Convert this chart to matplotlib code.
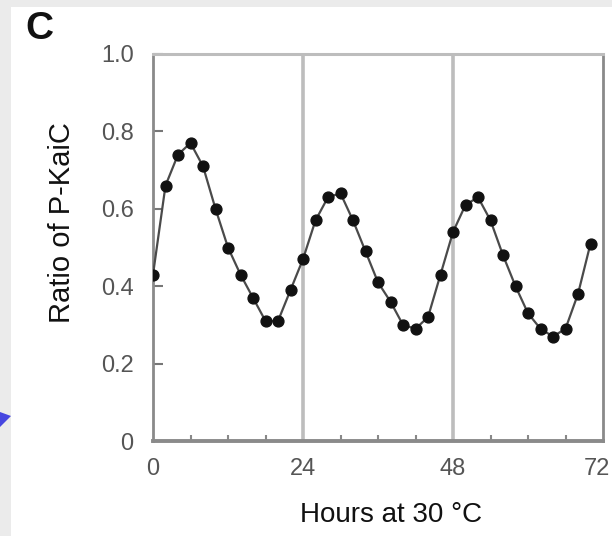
import matplotlib
matplotlib.use("Agg")
import matplotlib.pyplot as plt
import matplotlib.transforms as mtransforms
from matplotlib.patches import Rectangle, Polygon

# ---- data ----
hours = [0, 2, 4, 6, 8, 10, 12, 14, 16, 18, 20, 22, 24, 26, 28, 30, 32, 34,
         36, 38, 40, 42, 44, 46, 48, 50, 52, 54, 56, 58, 60, 62, 64, 66, 68, 70]
ratio = [0.43, 0.66, 0.74, 0.77, 0.71, 0.60, 0.50, 0.43, 0.37, 0.31, 0.31, 0.39,
         0.47, 0.57, 0.63, 0.64, 0.57, 0.49, 0.41, 0.36, 0.30, 0.29, 0.32, 0.43,
         0.54, 0.61, 0.63, 0.57, 0.48, 0.40, 0.33, 0.29, 0.27, 0.29, 0.38, 0.51]
x_ticks = [0, 24, 48, 72]
x_tick_labels = ["0", "24", "48", "72"]
x_minor = [6, 12, 18, 30, 36, 42, 54, 60, 66]
y_ticks = [0, 0.2, 0.4, 0.6, 0.8, 1.0]
y_tick_labels = ["0", "0.2", "0.4", "0.6", "0.8", "1.0"]
day_lines = [24, 48]

plt.rcParams['font.family'] = ['Liberation Sans', 'DejaVu Sans']

W, H = 612, 536
fig = plt.figure(figsize=(W / 100, H / 100), dpi=100)
fig.patch.set_facecolor("white")

def fx(x):
    return x / W

def fy(y):
    return 1 - y / H

# light gray page border (top and left)
fig.patches.append(Rectangle((0, fy(7)), 1, 7 / H, transform=fig.transFigure,
                             facecolor="#ebebeb", edgecolor="none", zorder=0))
fig.patches.append(Rectangle((0, 0), fx(11), 1, transform=fig.transFigure,
                             facecolor="#ebebeb", edgecolor="none", zorder=0))
# blue arrow tip at the left edge
fig.patches.append(Polygon([(fx(0), fy(412)), (fx(11), fy(416)), (fx(0), fy(427))],
                           closed=True, transform=fig.transFigure,
                           facecolor="#4646e0", edgecolor="none", zorder=1))

left, right, top, bottom = 153, 603, 54, 441
ax = fig.add_axes([fx(left), fy(bottom), (right - left) / W, (bottom - top) / H])

for xl in day_lines:
    ax.axvline(xl, color="#bdbdbd", lw=2.6, zorder=1)

ax.plot(hours, ratio, color="#4a4a4a", lw=1.6, marker="o", markersize=7.8,
        markerfacecolor="#111111", markeredgecolor="#111111", zorder=3)

ax.set_xlim(0, 72)
ax.set_ylim(0, 1.0)
ax.set_xticks(x_ticks)
ax.set_xticklabels(x_tick_labels)
ax.set_xticks(x_minor, minor=True)
ax.set_yticks(y_ticks)
ax.set_yticklabels(y_tick_labels)

ax.tick_params(axis="y", direction="in", length=7, width=1.5, color="#777777",
               labelsize=17, labelcolor="#555555", pad=14)
ax.tick_params(axis="x", which="major", direction="in", length=0,
               labelsize=17, labelcolor="#555555", pad=12)
ax.tick_params(axis="x", which="minor", direction="in", length=4, width=1.5,
               color="#888888")

# the last x label sits a little left of its tick, as in the reference
last = ax.get_xticklabels()[-1]
last.set_transform(last.get_transform() +
                   mtransforms.ScaledTranslation(-6 / 100, 0, fig.dpi_scale_trans))

for s in ["left", "right"]:
    ax.spines[s].set_color("#8a8a8a")
    ax.spines[s].set_linewidth(2.0)
ax.spines["bottom"].set_color("#8a8a8a")
ax.spines["bottom"].set_linewidth(2.8)
ax.spines["top"].set_color("#bdbdbd")
ax.spines["top"].set_linewidth(2.2)

ax.set_xlabel("Hours at 30 \u00b0C", fontsize=20, color="#111111",
              va="center", ha="center")
ax.xaxis.set_label_coords((391 - left) / (right - left), (bottom - 515) / (bottom - top))
ax.set_ylabel("Ratio of P-KaiC", fontsize=21, color="#111111",
              va="center", ha="center")
ax.yaxis.set_label_coords((62 - left) / (right - left), (bottom - 223) / (bottom - top))

fig.text(fx(39), fy(29), "C", fontsize=28, fontweight="bold", color="#111111",
         ha="center", va="center")

fig.savefig("out.png", dpi=100)
